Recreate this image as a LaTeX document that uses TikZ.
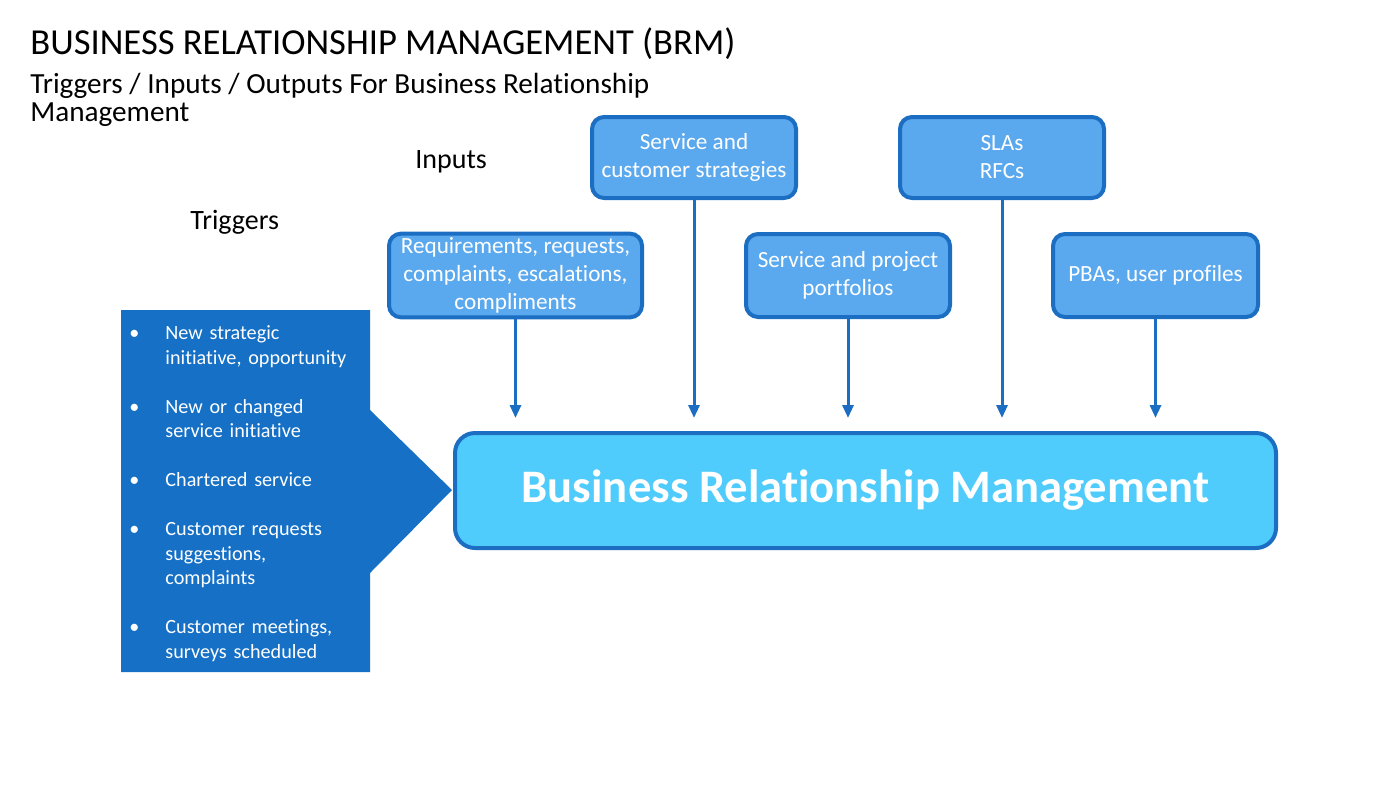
\documentclass[tikz,border=0pt]{standalone}
\usepackage{fontspec}
\setmainfont{Carlito}[Ligatures=NoCommon]
\usepackage{enumitem}
\usetikzlibrary{arrows.meta}

\definecolor{boxblue}{HTML}{5AA8EE}
\definecolor{edgeblue}{HTML}{1B6EC2}
\definecolor{brmblue}{HTML}{50CCFC}
\definecolor{trigblue}{HTML}{1570C6}

\begin{document}
\begin{tikzpicture}[x=0.5pt, y=-0.5pt,
  inbox/.style={rectangle, rounded corners=6pt, draw=edgeblue, fill=boxblue, line width=2pt, text=white, align=center, inner sep=2pt, font=\fontsize{11.6}{14}\selectfont},
  brmbox/.style={rectangle, rounded corners=10pt, draw=edgeblue, fill=brmblue, line width=2pt, text=white, font=\fontsize{23.3}{26}\selectfont\bfseries},
  feed/.style={-{Triangle[width=5.5pt,length=6.5pt]}, draw=edgeblue, line width=1.5pt, shorten >=6.5pt},
  head/.style={anchor=base west, inner sep=0pt, text=black}]
\useasboundingbox (0,0) rectangle (1400,788);

\node[head, font=\fontsize{18.3}{20}\selectfont] (title) at (30,54) {BUSINESS RELATIONSHIP MANAGEMENT (BRM)};
\node[head, font=\fontsize{14.6}{15}\selectfont] (subtitle) at (30,93) {Triggers / Inputs / Outputs For Business Relationship};
\node[head, font=\fontsize{14.6}{15}\selectfont] (subtitle2) at (30,121) {Management};
\node[head, font=\fontsize{14}{14}\selectfont] (inputs) at (415,168) {Inputs};
\node[head, font=\fontsize{14}{14}\selectfont] (triggers) at (190,229) {Triggers};

% input boxes
\node[inbox, minimum width=102pt, minimum height=40.5pt] (ssc) at (694,157.5) {Service and\\customer strategies};
\node[inbox, minimum width=102pt, minimum height=40.5pt] (sla) at (1002,157.5) {SLAs\\RFCs};
\node[inbox, minimum width=126.5pt, minimum height=41.5pt] (req) at (515.5,275.5) {Requirements, requests,\\complaints, escalations,\\compliments};
\node[inbox, minimum width=102pt, minimum height=41.5pt] (spp) at (848,275.5) {Service and project\\portfolios};
\node[inbox, minimum width=102.5pt, minimum height=41.5pt] (pba) at (1155.5,275.5) {PBAs, user profiles};

\node[brmbox, minimum width=410.5pt, minimum height=57.5pt] (brm) at (865.5,490.5) {Business Relationship Management};

\foreach \src in {req,ssc,spp,sla,pba}
  \draw[feed] (\src.south) -- (\src.south |- brm.north);

% triggers
\fill[trigblue] (121,310) -- (370,310) -- (370,410) -- (452,490) -- (370,573) -- (370,672) -- (121,672) -- cycle;
\node[anchor=north west, inner sep=0pt, text width=120pt, align=left, text=white, font=\fontsize{10.1}{12.25}\selectfont] (trigtext) at (121,315)
  {\begin{itemize}[leftmargin=22pt, labelsep=13pt, topsep=0pt, partopsep=0pt, itemsep=12.25pt, parsep=0pt, label=\textbullet]
   \item New strategic\\initiative, opportunity
   \item New or changed\\service initiative
   \item Chartered service
   \item Customer requests\\suggestions,\\complaints
   \item Customer meetings,\\surveys scheduled
   \end{itemize}};
\end{tikzpicture}
\end{document}
